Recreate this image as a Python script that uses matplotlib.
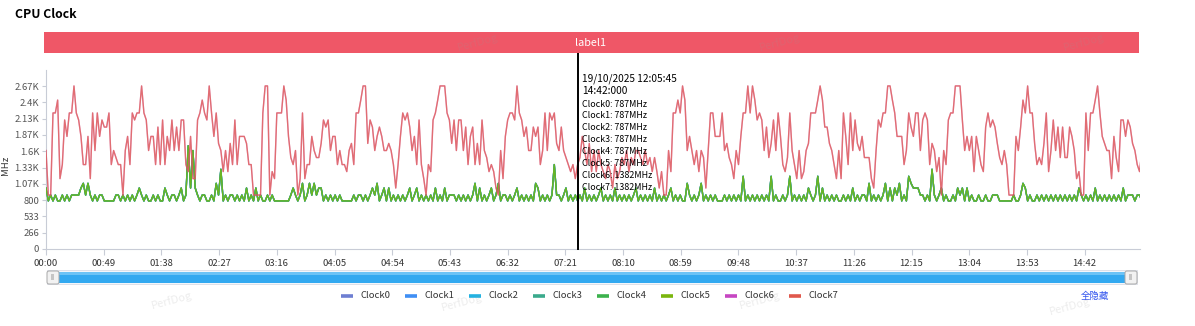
import numpy as np
import matplotlib
matplotlib.use("Agg")
import matplotlib.pyplot as plt
from matplotlib.patches import Rectangle, FancyBboxPatch

plt.rcParams['font.family'] = ['Noto Sans CJK SC', 'DejaVu Sans']

# sample spacing of the trace (seconds)
STEP_SEC = 1.98

# clusters: Clock0-5 share the little-core freq, Clock6-7 the big-core freq
big_mhz = [
    # 00:00 - 03:52
    1612, 883, 883, 2227, 2227, 2438, 1152, 1382, 2112, 1843,
    2227, 2227, 2669, 2227, 2112, 1843, 1382, 1382, 1843, 1152,
    2227, 1612, 2227, 1843, 2112, 1996, 1996, 2227, 1382, 1612,
    1497, 1382, 1382, 883, 1612, 1843, 1382, 2227, 2112, 2227,
    2227, 2669, 2227, 2112, 1612, 1843, 1843, 1382, 1996, 1382,
    2112, 1382, 1843, 1612, 2112, 1612, 1996, 1612, 2112, 2112,
    1382, 1267, 1843, 1152, 1152, 2112, 2227, 2438, 2227, 2112,
    2669, 2227, 1843, 2227, 1728, 1612, 1267, 1612, 1267, 1728,
    1382, 2112, 1382, 1843, 1843, 1843, 1728, 1382, 1382, 883,
    883, 883, 883, 2227, 2669, 2669, 883, 1267, 1152, 2227,
    2227, 2227, 2669, 2438, 1843, 1497, 1382, 1612, 883, 1152,
    2227, 1152, 1382, 1382, 1843, 1612, 1497,
    # 03:52 - 07:46
    1497, 1728, 2112, 1996, 2112, 1612, 1843, 1843, 1382, 1612,
    1382, 1382, 1267, 1612, 1728, 1382, 2227, 2227, 2438, 2669,
    2669, 1728, 2112, 1996, 1612, 1843, 1996, 1843, 1612, 1612,
    1728, 1612, 1382, 998, 1382, 1843, 2227, 2112, 2227, 1996,
    1612, 1843, 1382, 2112, 1382, 1152, 883, 1382, 1267, 2112,
    2227, 2438, 2669, 2669, 2669, 2227, 2112, 1728, 2112, 1612,
    2112, 2112, 1612, 1996, 1382, 1843, 1996, 1382, 1728, 1382,
    2112, 1612, 1497, 1267, 1382, 1267, 998, 883, 1612, 1152,
    1843, 2112, 2227, 2227, 2112, 2669, 2227, 2112, 1843, 1996,
    1612, 1612, 1996, 1843, 1996, 1382, 1612, 2227, 1612, 2227,
    2112, 2227, 1728, 1612, 1996, 1612, 1497, 1382, 1267, 1382,
    1152, 1382, 1497, 1843, 1612, 1382, 1728, 1267,
    # 07:46 - 11:38
    1612, 1267, 1612, 1382, 1267, 1152, 1382, 1267, 998, 1382,
    1152, 1267, 1497, 1382, 1612, 1267, 1497, 1382, 1612, 1612,
    1497, 1382, 1612, 1382, 1497, 1267, 1497, 1267, 998, 1267,
    883, 883, 1612, 1267, 2227, 2227, 2438, 2227, 2669, 2438,
    1612, 1843, 1612, 1382, 1612, 1267, 1612, 1497, 998, 1612,
    2227, 2227, 1843, 1843, 1843, 2227, 1612, 1728, 1497, 1382,
    1152, 1612, 1382, 1843, 2227, 2227, 2669, 2227, 2669, 2438,
    2112, 2227, 2112, 1612, 1996, 1497, 1728, 2112, 1612, 2227,
    1843, 1382, 1267, 1497, 2227, 1612, 1382, 1152, 1612, 1152,
    1267, 1612, 1728, 2227, 2227, 2227, 2438, 2669, 2438, 1996,
    1996, 1728, 1612, 1382, 1152, 1612, 1152, 2227, 1843, 1382,
    2227, 1612, 2112, 1728, 1612, 1843,
    # 11:38 - end
    1497, 1497, 1497, 1152, 998, 1612, 2112, 1996, 2227, 2227,
    2669, 2669, 2438, 2227, 1843, 1843, 1843, 1382, 1612, 2227,
    1996, 1843, 2227, 2227, 1612, 2112, 2227, 2112, 1382, 1728,
    1612, 1267, 1497, 883, 1612, 1382, 2112, 2227, 2227, 2669,
    2669, 2669, 2112, 1612, 1843, 1612, 1843, 1267, 1843, 1612,
    1382, 1267, 1996, 2227, 1996, 2112, 1996, 1728, 1497, 1382,
    1612, 1382, 883, 883, 883, 1843, 1612, 1996, 2438, 2227,
    2669, 2227, 2227, 1728, 1382, 1497, 1382, 1728, 2227, 1267,
    1612, 2112, 1612, 1996, 1497, 1996, 1497, 1497, 1996, 1843,
    1612, 1152, 1267, 883, 883, 2227, 1612, 2227, 2227, 2438,
    2669, 2227, 1843, 1728, 1612, 1612, 1152, 1843, 1497, 1267,
    2112, 2112, 1843, 2112, 1996, 1728, 1612, 1382, 1267, 1612,
]

little_mhz = [
    998, 787, 883, 787, 883, 787, 787, 883, 787, 883,
    787, 883, 883, 883, 883, 998, 1075, 883, 1075, 883,
    787, 883, 787, 883, 883, 787, 787, 787, 787, 787,
    883, 883, 787, 883, 787, 883, 787, 883, 787, 883,
    998, 883, 787, 883, 787, 787, 883, 787, 883, 787,
    787, 998, 883, 787, 883, 883, 787, 883, 998, 787,
    883, 1690, 998, 1612, 998, 883, 787, 883, 883, 787,
    787, 883, 787, 1075, 883, 1305, 787, 883, 787, 883,
    883, 787, 883, 787, 883, 787, 998, 787, 883, 787,
    998, 787, 883, 787, 787, 883, 787, 883, 787, 787,
    787, 787, 787, 787, 787, 883, 998, 883, 787, 883,
    1075, 787, 883, 1075, 883, 1075, 883,

    998, 998, 787, 883, 787, 883, 787, 883, 787, 883,
    787, 787, 787, 787, 787, 883, 787, 883, 883, 787,
    883, 787, 883, 998, 883, 1075, 787, 883, 998, 787,
    998, 787, 883, 787, 883, 787, 883, 787, 883, 998,
    787, 883, 998, 787, 883, 787, 883, 787, 883, 787,
    998, 787, 883, 787, 998, 787, 883, 883, 883, 787,
    883, 787, 883, 787, 883, 787, 883, 1075, 787, 998,
    787, 883, 787, 883, 998, 787, 883, 1075, 787, 883,
    883, 787, 883, 787, 883, 998, 787, 883, 787, 883,
    787, 883, 787, 1075, 998, 787, 883, 787, 883, 787,
    883, 1382, 883, 883, 787, 883, 998, 787, 883, 787,
    883, 787, 883, 787, 998, 787, 883, 787,

    883, 787, 883, 998, 787, 883, 787, 883, 787, 998,
    787, 883, 787, 883, 787, 883, 787, 883, 998, 787,
    883, 787, 883, 787, 883, 787, 998, 787, 883, 787,
    883, 787, 883, 998, 787, 883, 787, 883, 787, 787,
    1075, 883, 787, 883, 787, 883, 1075, 787, 883, 787,
    883, 787, 883, 787, 787, 787, 883, 787, 883, 787,
    883, 787, 883, 787, 1190, 787, 883, 787, 883, 787,
    883, 787, 883, 787, 883, 787, 1190, 787, 883, 787,
    787, 883, 787, 883, 1190, 787, 883, 787, 883, 787,
    883, 787, 998, 883, 787, 883, 1190, 787, 998, 787,
    883, 787, 883, 787, 883, 787, 787, 883, 787, 883,
    787, 998, 787, 883, 787, 883,

    883, 787, 1075, 787, 883, 787, 883, 787, 883, 1075,
    787, 998, 787, 998, 883, 1075, 787, 883, 787, 1190,
    1075, 998, 998, 998, 883, 883, 787, 883, 787, 1305,
    883, 787, 883, 998, 787, 883, 787, 787, 883, 787,
    998, 883, 998, 787, 998, 787, 883, 787, 787, 883,
    787, 787, 883, 787, 787, 883, 883, 883, 787, 787,
    787, 787, 787, 787, 883, 787, 787, 883, 1075, 998,
    787, 883, 787, 787, 883, 787, 883, 787, 883, 787,
    883, 787, 883, 787, 883, 787, 883, 787, 883, 787,
    883, 787, 998, 883, 787, 883, 787, 883, 787, 998,
    787, 883, 787, 883, 787, 883, 787, 883, 787, 883,
    787, 998, 787, 883, 883, 883, 787, 883, 883, 787,
]

clock_names = ["Clock0", "Clock1", "Clock2", "Clock3", "Clock4", "Clock5", "Clock6", "Clock7"]
clock_colors = ["#6e7fd2", "#3f8ff4", "#21b2e2", "#3aaa8c", "#3cb24d", "#7bb60e", "#c646c2", "#e0584c"]

y_ticks = [0, 266.7, 533.3, 800, 1066.7, 1333.3, 1600, 1866.7, 2133.3, 2400, 2666.7]
y_labels = ["0", "266", "533", "800", "1.07K", "1.33K", "1.6K", "1.87K", "2.13K", "2.4K", "2.67K"]
x_tick_sec = list(range(0, 883, 49))
x_labels = ["%02d:%02d" % (s // 60, s % 60) for s in x_tick_sec]

cursor_idx = 228
cursor_date = "19/10/2025 12:05:45"
cursor_clock = "14:42:000"

W, H = 1195, 326
fig = plt.figure(figsize=(W / 100, H / 100), dpi=100)
fig.patch.set_facecolor("white")

# main plot area (pixel box 46..1140 x 70..249)
ax = fig.add_axes([46 / W, 1 - 249 / H, 1094 / W, 179 / H])
t = np.arange(len(big_mhz)) * STEP_SEC
little = np.array(little_mhz)
big = np.array(big_mhz)

for i in range(6):
    ax.plot(t, little, color=clock_colors[i], lw=1.0, alpha=0.9 if i < 4 else 0.75, zorder=2 + i)
ax.plot(t, big, color=clock_colors[6], lw=1.0, alpha=0.45, zorder=9)
ax.plot(t, big, color=clock_colors[7], lw=1.0, alpha=0.75, zorder=10)

ax.set_xlim(0, 929)
ax.set_ylim(0, 2930)
ax.set_yticks(y_ticks)
ax.set_yticklabels(y_labels)
ax.set_xticks(x_tick_sec)
ax.set_xticklabels(x_labels)
for s in ["top", "right"]:
    ax.spines[s].set_visible(False)
ax.spines["left"].set_color("#c8ccd6")
ax.spines["bottom"].set_color("#c8ccd6")
ax.tick_params(axis="y", length=3, color="#c8ccd6", labelsize=6.8, labelcolor="#555555", pad=2)
ax.tick_params(axis="x", length=4, color="#c8ccd6", labelsize=6.8, labelcolor="#333333", pad=3)

# hover cursor + tooltip
tc = t[cursor_idx]
ax.axvline(tc, ymin=0, ymax=1 + 17 / 179, color="black", lw=1.4, clip_on=False, zorder=20)
ax.annotate(cursor_date, xy=(tc, 1), xycoords=("data", "axes fraction"), xytext=(3.5, -6),
            textcoords="offset points", fontsize=7.3, va="center", ha="left", zorder=21)
ax.annotate(cursor_clock, xy=(tc, 1), xycoords=("data", "axes fraction"), xytext=(3.5, -15),
            textcoords="offset points", fontsize=7.3, va="center", ha="left", zorder=21)
for i in range(8):
    v = little[cursor_idx] if i < 6 else big[cursor_idx]
    ax.annotate("%s: %dMHz" % (clock_names[i], v), xy=(tc, 1), xycoords=("data", "axes fraction"),
                xytext=(3.5, -24.5 - 8.6 * i), textcoords="offset points",
                fontsize=6.4, va="center", ha="left", zorder=21)

# overlay in pixel coordinates for header, slider, legend
ov = fig.add_axes([0, 0, 1, 1], zorder=5)
ov.set_xlim(0, W)
ov.set_ylim(H, 0)
ov.axis("off")
ov.patch.set_alpha(0)

ov.text(15, 15, "CPU Clock", fontsize=8.8, fontweight="bold", va="center", ha="left")
ov.add_patch(Rectangle((44, 32), 1095, 21, color="#ef5767", lw=0))
ov.text(591, 42.5, "label1", color="white", fontsize=7.8, va="center", ha="center")
# axis name hugs the left edge
ov.text(6, 165, "MHz", fontsize=6.8, rotation=90, va="center", ha="center", color="#333333")

# zoom slider
ov.add_patch(Rectangle((47, 270), 1090, 14, facecolor="#f4f6fa", edgecolor="#d9dde6", lw=0.6))
ov.add_patch(Rectangle((54, 272), 1076, 11, facecolor="#33a9f0", lw=0))
ov.add_patch(Rectangle((54, 272), 1076, 3, facecolor="#6cc3f6", lw=0))
for hx in (47, 1125):
    ov.add_patch(FancyBboxPatch((hx, 271), 12, 13, boxstyle="round,pad=0,rounding_size=2",
                                facecolor="#f2f2f2", edgecolor="#a8a8a8", lw=0.7, zorder=6))
    ov.text(hx + 6, 277.5, "|||", fontsize=4, color="#777777", va="center", ha="center", zorder=7)

# legend
for i in range(8):
    lx = 341 + 64 * i
    ov.plot([lx, lx + 12], [296, 296], color=clock_colors[i], lw=2.6, solid_capstyle="butt")
    ov.text(lx + 20, 296, clock_names[i], fontsize=6.8, color="#333333", va="center", ha="left")
ov.text(1095, 296, "全隐藏", fontsize=6.8, color="#3355ee", va="center", ha="center")

# faint watermark
for wx, wy in [(478, 42), (780, 42), (1084, 42), (172, 300), (462, 302), (760, 300), (1070, 306)]:
    ov.text(wx, wy, "PerfDog", fontsize=8, color="#999999", alpha=0.18, rotation=15,
            va="center", ha="center")

fig.savefig("out.png", dpi=100)
